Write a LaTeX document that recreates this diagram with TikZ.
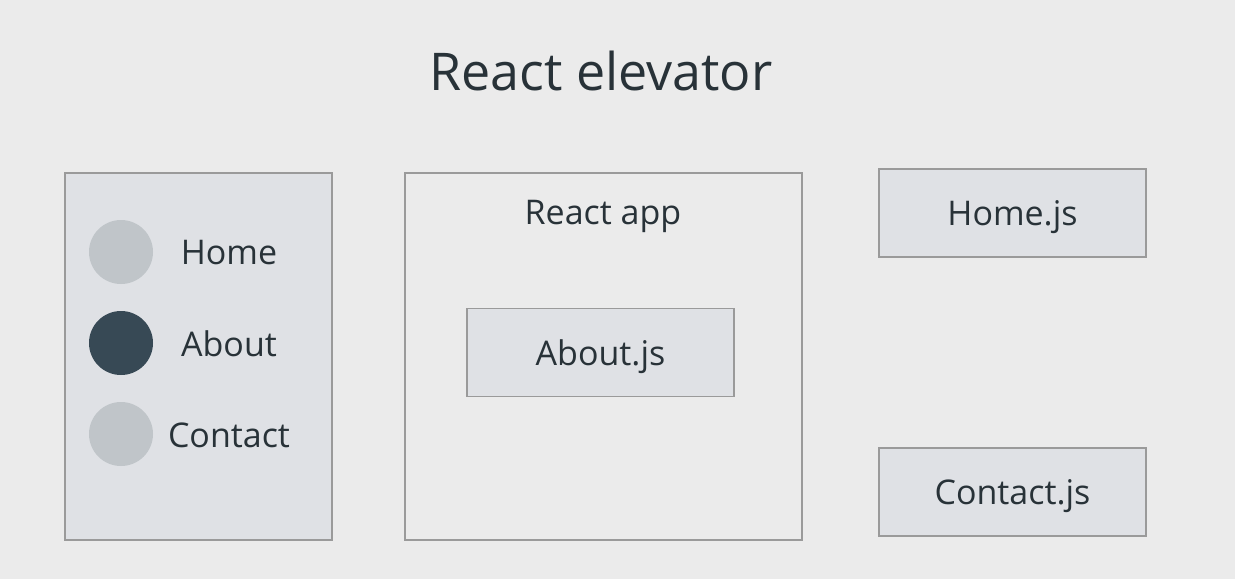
\documentclass[tikz,border=0pt]{standalone}
\usepackage{fontspec}
\setmainfont{Open Sans}
\definecolor{bg}{HTML}{EBEBEB}
\definecolor{panelfill}{HTML}{DFE1E5}
\definecolor{edge}{HTML}{9A9A9A}
\definecolor{ink}{HTML}{283238}
\definecolor{dotoff}{HTML}{C0C5C9}
\definecolor{doton}{HTML}{374955}
\begin{document}
\begin{tikzpicture}[x=1pt,y=-1pt,font=\color{ink},
  panel/.style={draw=edge,line width=1.5pt,inner sep=0pt},
  jsbox/.style={panel,fill=panelfill,minimum width=267pt,minimum height=88pt,text depth=0pt,font=\fontsize{34}{40}\selectfont\color{ink}},
  dot/.style={circle,minimum size=64pt,inner sep=0pt},
  label/.style={font=\fontsize{34}{40}\selectfont\color{ink}}]
  \fill[bg] (0,0) rectangle (1235,579);
  \useasboundingbox (0,0) rectangle (1235,579);
  \node[font=\fontsize{52}{60}\selectfont\color{ink}] (title) at (601,71) {React elevator};

  % navigation panel
  \draw[panel,fill=panelfill] (65,173) rectangle (332,540);
  \node[dot,fill=dotoff] (dothome) at (121,252) {};
  \node[dot,fill=doton] (dotabout) at (121,343) {};
  \node[dot,fill=dotoff] (dotcontact) at (121,434) {};
  \node[label] (home) at (229,253) {Home};
  \node[label] (about) at (229,344) {About};
  \node[label] (contact) at (229,435) {Contact};

  % app container
  \draw[panel] (405,173) rectangle (802,540);
  \node[label] (app) at (603,216) {React app};
  \node[jsbox] (aboutjs) at (600.5,352.5) {About.js};

  % components waiting outside
  \node[jsbox] (homejs) at (1012.5,213) {Home.js};
  \node[jsbox] (contactjs) at (1012.5,492) {Contact.js};
\end{tikzpicture}
\end{document}
